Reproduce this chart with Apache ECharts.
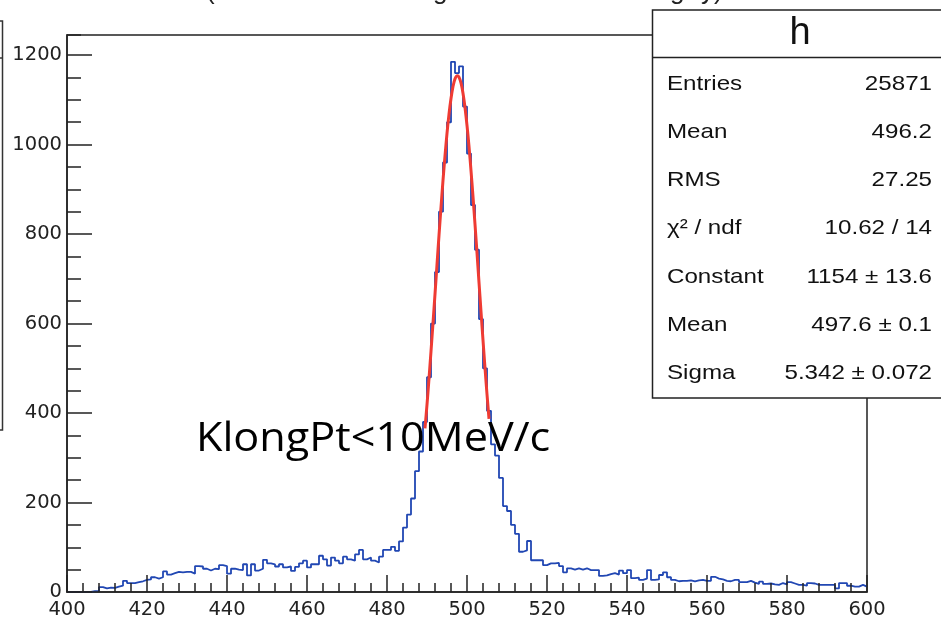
<!DOCTYPE html>
<html><head><meta charset="utf-8">
<script src="https://cdn.jsdelivr.net/npm/echarts@6/dist/echarts.min.js"></script>
<style>html,body{margin:0;padding:0;background:#fff}#c{width:941px;height:620px}</style>
</head><body><div id="c"></div>
<script>
// ---- data ----
const binLow = 400;
const binWidth = 1;
const counts = [
  0,0,0,0,0,0,2,2,11,8,
  10,9,12,14,25,20,20,22,24,27,
  28,33,30,33,46,39,42,45,44,45,
  45,41,58,57,52,48,52,51,60,58,
  41,52,50,49,62,37,62,48,52,72,
  64,62,57,62,55,57,47,56,64,70,
  55,62,62,81,73,59,77,70,64,79,
  73,70,84,94,73,77,70,66,79,94,
  94,101,92,113,144,173,209,270,314,380,
  480,600,715,850,960,1050,1185,1160,1175,1085,
  980,865,765,610,500,405,330,305,255,192,
  181,150,130,90,93,114,71,71,71,60,
  64,64,65,58,44,53,50,53,50,53,
  49,49,49,36,37,40,42,39,48,42,
  49,31,32,27,30,49,27,28,38,44,
  33,27,24,25,25,26,24,26,27,25,
  25,34,30,28,25,24,27,27,22,22,
  25,21,18,23,18,19,17,16,20,17,
  22,19,16,16,14,20,19,16,16,16,
  16,16,8,20,20,14,12,12,16,12
];
const fitX = [489.5,490,490.5,491,491.5,492,492.5,493,493.5,494,494.5,495,495.5,496,496.5,497,497.6,498,498.5,499,499.5,500,500.5,501,501.5,502,502.5,503,503.5,504,504.5,505,505.5];
const fitY = [366,419,477,538,601,666,732,797,860,920,975,1025,1068,1103,1130,1147,1154,1151,1138,1115,1083,1043,996,942,884,822,758,692,627,563,501,442,387];
const xTickValues = [400,420,440,460,480,500,520,540,560,580,600];
const yTickValues = [0,200,400,600,800,1000,1200];
const statsTitle = 'h';
const statsLabels = ['Entries','Mean','RMS','χ² / ndf','Constant','Mean','Sigma'];
const statsValues = ['25871','496.2','27.25','10.62 / 14','1154 ± 13.6','497.6 ± 0.1','5.342 ± 0.072'];
const annotation = 'KlongPt<10MeV/c';
// visible fragments of the page title that is cut off at the top edge
const titleFragments = ['(', 'g', 'g', 'y)'];

// ---- build ----
const histPts = counts.map((v, i) => [binLow + i * binWidth, v]);
histPts.push([binLow + counts.length * binWidth, counts[counts.length - 1]]);
const fitPts = fitX.map((x, i) => [x, fitY[i]]);

const axisFont = {fontFamily: 'DejaVu Sans', fontSize: 19.5, color: '#222'};
const chart = echarts.init(document.getElementById('c'), null, {renderer: 'canvas'});

const g = [];
const boxL = 652.5, boxT = 10, boxB = 398;
g.push({type: 'rect', shape: {x: boxL, y: boxT, width: 300, height: boxB - boxT},
  style: {fill: '#fff', stroke: '#222', lineWidth: 1.5}, z: 100});
g.push({type: 'line', shape: {x1: boxL, y1: 57.5, x2: 941, y2: 57.5},
  style: {stroke: '#222', lineWidth: 1.5}, z: 101});
g.push({type: 'text', x: 800, y: 34, z: 101,
  style: {text: statsTitle, font: '38px "Liberation Sans"', fill: '#111', align: 'center', verticalAlign: 'middle'}});
statsLabels.forEach((lab, i) => {
  const y = 84 + i * 48.2;
  g.push({type: 'text', x: 667, y: y, z: 101, scaleX: 1.15,
    style: {text: lab, font: '21px "Liberation Sans"', fill: '#111', align: 'left', verticalAlign: 'middle'}});
  g.push({type: 'text', x: 932, y: y, z: 101, scaleX: 1.15,
    style: {text: statsValues[i], font: '21px "Liberation Sans"', fill: '#111', align: 'right', verticalAlign: 'middle'}});
});
// left partial frame (cut off at page edge)
g.push({type: 'polyline', shape: {points: [[0, 21], [2.5, 21], [2.5, 430], [0, 430]]},
  style: {stroke: '#333', lineWidth: 1.5, fill: null}, z: 101});
g.push({type: 'line', shape: {x1: 0, y1: 58, x2: 2.5, y2: 58}, style: {stroke: '#333', lineWidth: 1.5}, z: 101});
// cut-off title fragments
const fragX = [206, 433, 670, 701];
titleFragments.forEach((t, i) => {
  g.push({type: 'text', x: fragX[i], y: -21, z: 101,
    style: {text: t, font: '26px "Liberation Sans"', fill: '#222', align: 'left', verticalAlign: 'top'}});
});
// annotation text
g.push({type: 'text', x: 196, y: 440, z: 101, scaleX: 1.08,
  style: {text: annotation, font: '40px "Open Sans"', fill: '#000', align: 'left', verticalAlign: 'middle'}});

chart.setOption({
  animation: false,
  backgroundColor: '#fff',
  grid: {left: 67, right: 74, top: 35, bottom: 25, show: true, borderColor: '#222', borderWidth: 1.5, backgroundColor: 'transparent'},
  xAxis: {
    type: 'value', min: xTickValues[0], max: xTickValues[xTickValues.length - 1], interval: xTickValues[1] - xTickValues[0],
    z: 5,
    axisLine: {show: true, onZero: false, lineStyle: {color: '#222', width: 1.5}},
    axisTick: {show: true, inside: true, length: 17, lineStyle: {color: '#222', width: 1.5}},
    minorTick: {show: true, splitNumber: 5, length: 9, lineStyle: {color: '#222', width: 1.5}},
    splitLine: {show: false},
    axisLabel: Object.assign({margin: 8, formatter: v => String(v)}, axisFont)
  },
  yAxis: [{
    type: 'value', min: yTickValues[0], max: 1245, interval: yTickValues[1] - yTickValues[0],
    z: 5,
    axisLine: {show: true, onZero: false, lineStyle: {color: '#222', width: 1.5}},
    axisTick: {show: true, inside: true, length: 25, lineStyle: {color: '#222', width: 1.5}},
    splitLine: {show: false},
    axisLabel: Object.assign({margin: 5, showMaxLabel: false, formatter: v => String(v)}, axisFont)
  }, {
    type: 'value', min: yTickValues[0], max: 1245, interval: (yTickValues[1] - yTickValues[0]) / 4,
    position: 'left', z: 5,
    axisLine: {show: false},
    axisTick: {show: true, inside: true, length: 14, lineStyle: {color: '#222', width: 1.5}},
    splitLine: {show: false},
    axisLabel: {show: false}
  }],
  graphic: g,
  series: [{
    type: 'line', step: 'end', data: histPts, symbol: 'none', z: 2,
    lineStyle: {color: '#2147b3', width: 1.8}, clip: true
  }, {
    type: 'line', data: fitPts, symbol: 'none', smooth: 0.3, z: 3,
    lineStyle: {color: '#ef3b33', width: 3}, clip: true
  }]
});
</script></body></html>
